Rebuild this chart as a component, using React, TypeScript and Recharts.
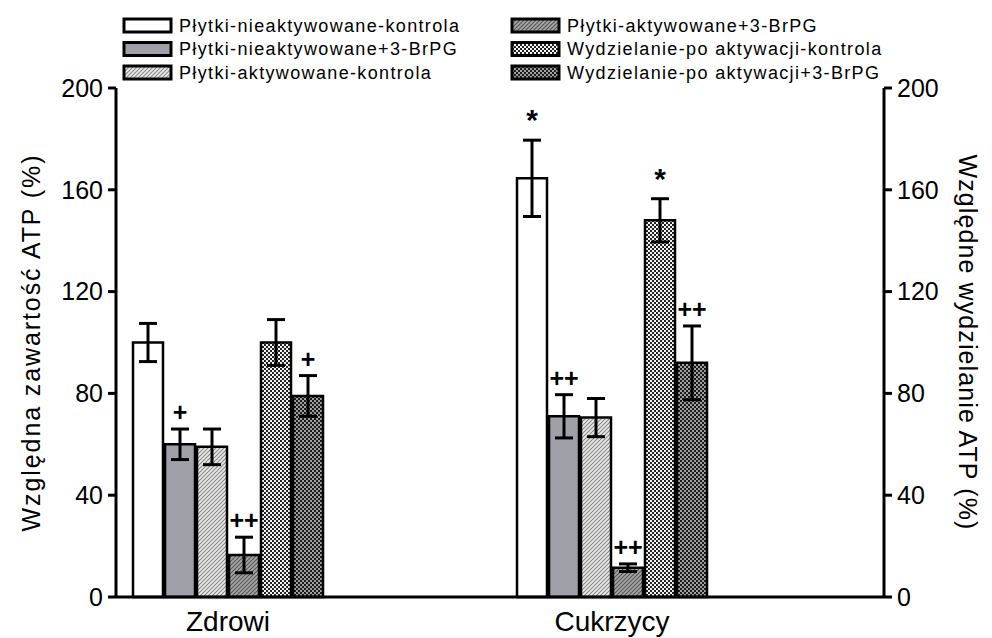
import React from 'react';
import { BarChart, Bar, XAxis, YAxis, ErrorBar, LabelList, Legend } from 'recharts';

const categories = ['Zdrowi', 'Cukrzycy'];
const seriesNames = [
  'Płytki-nieaktywowane-kontrola',
  'Płytki-nieaktywowane+3-BrPG',
  'Płytki-aktywowane-kontrola',
  'Płytki-aktywowane+3-BrPG',
  'Wydzielanie-po aktywacji-kontrola',
  'Wydzielanie-po aktywacji+3-BrPG',
];
const s1Values = [100, 164.5];
const s2Values = [60, 71];
const s3Values = [59, 70.5];
const s4Values = [16.5, 11.5];
const s5Values = [100, 148];
const s6Values = [79, 92];
const s1Errors = [7.5, 15];
const s2Errors = [6, 8.5];
const s3Errors = [7, 7.5];
const s4Errors = [7, 1.5];
const s5Errors = [9, 8.5];
const s6Errors = [8, 14.5];
const s1Marks = ['', '*'];
const s2Marks = ['+', '++'];
const s3Marks = ['', ''];
const s4Marks = ['++', '++'];
const s5Marks = ['', '*'];
const s6Marks = ['+', '++'];
const yTicks = [0, 40, 80, 120, 160, 200];
const leftTitle = 'Względna zawartość ATP (%)';
const rightTitle = 'Względne wydzielanie ATP (%)';

const allValues = [s1Values, s2Values, s3Values, s4Values, s5Values, s6Values];
const allErrors = [s1Errors, s2Errors, s3Errors, s4Errors, s5Errors, s6Errors];
const allMarks = [s1Marks, s2Marks, s3Marks, s4Marks, s5Marks, s6Marks];
// content series (1-4) use the left axis, release series (5-6) the right axis
const axisIds = ['left', 'left', 'left', 'left', 'right', 'right'];

const data = categories.map((name, i) => {
  const row: any = { name };
  allValues.forEach((vals, k) => {
    row[`v${k + 1}`] = vals[i];
    row[`e${k + 1}`] = allErrors[k][i];
    row[`m${k + 1}`] = allMarks[k][i];
  });
  return row;
});

const fills = ['#ffffff', '#a0a0a8', 'url(#pat3)', 'url(#pat4)', 'url(#pat5)', 'url(#pat6)'];

const FONT = '"Liberation Sans", Arial, Helvetica, sans-serif';

function Patterns() {
  return (
    <defs>
      <pattern id="pat3" width="4" height="4" patternUnits="userSpaceOnUse">
        <rect width="4" height="4" fill="#ececec" />
        <path d="M-1,1 l2,-2 M0,4 l4,-4 M3,5 l2,-2" stroke="#8a8a8a" strokeWidth="1.2" />
      </pattern>
      <pattern id="pat4" width="4" height="4" patternUnits="userSpaceOnUse">
        <rect width="4" height="4" fill="#a8a8a8" />
        <path d="M-1,1 l2,-2 M0,4 l4,-4 M3,5 l2,-2" stroke="#555555" strokeWidth="1.2" />
      </pattern>
      <pattern id="pat5" width="4" height="4" patternUnits="userSpaceOnUse">
        <rect width="4" height="4" fill="#f4f4f4" />
        <rect x="0" y="0" width="2" height="2" fill="#222" />
        <rect x="2" y="2" width="2" height="2" fill="#222" />
      </pattern>
      <pattern id="pat6" width="4" height="4" patternUnits="userSpaceOnUse">
        <rect width="4" height="4" fill="#a0a0a0" />
        <rect x="0" y="0" width="2" height="2" fill="#1a1a1a" />
        <rect x="2" y="2" width="2" height="2" fill="#1a1a1a" />
      </pattern>
    </defs>
  );
}

function makeMarkLabel(k: number) {
  return (props: any) => {
    const vb = props.viewBox || props;
    const x = props.x ?? vb.x;
    const y = props.y ?? vb.y;
    const width = props.width ?? vb.width;
    const height = props.height ?? vb.height;
    const { value, index } = props;
    if (!value) return null;
    const v = allValues[k][index];
    const e = allErrors[k][index];
    const px = v ? height / v : 0;
    const top = y - e * px;
    const isStar = value === '*';
    return (
      <text
        x={x + width / 2}
        y={isStar ? top - 10 : top - 8}
        textAnchor="middle"
        fontSize={isStar ? 30 : 25}
        fontWeight="bold"
        fontFamily={FONT}
        fill="#000"
      >
        {value}
      </text>
    );
  };
}

const legendRows = [25.5, 49, 72.5];
const legendCols = [{ sx: 124, tx: 179 }, { sx: 512, tx: 567 }];

function LegendContent() {
  return (
    <svg width={992} height={88} style={{ display: 'block' }}>
      <Patterns />
      {seriesNames.map((n, i) => {
        const col = legendCols[Math.floor(i / 3)];
        const cy = legendRows[i % 3];
        return (
          <g key={n}>
            <rect x={col.sx} y={cy - 6.5} width={47} height={13} fill={fills[i]} stroke="#000" strokeWidth={3} />
            <text x={col.tx} y={cy} dy="0.35em" fontSize={18} letterSpacing={1.35} fontFamily={FONT} fill="#000">
              {n}
            </text>
          </g>
        );
      })}
    </svg>
  );
}

const axisCommon = {
  domain: [0, 200] as [number, number],
  ticks: yTicks,
  interval: 0 as const,
  tickSize: 8,
  tickMargin: 5,
  axisLine: { stroke: '#000', strokeWidth: 3 },
  tickLine: { stroke: '#000', strokeWidth: 3 },
  tick: { fontSize: 25, fill: '#000', fontFamily: FONT },
};

export default function App() {
  return (
    <div style={{ position: 'absolute', left: 0, top: 0 }}>
      <BarChart
        width={992}
        height={638}
        data={data}
        margin={{ top: 88, right: 0, bottom: 0, left: 0 }}
        barSize={30}
        barGap={2}
      >
        <Patterns />
        <XAxis
          dataKey="name"
          padding={{ left: -80, right: 80 }}
          tickLine={false}
          axisLine={{ stroke: '#000', strokeWidth: 3 }}
          tick={{ fontSize: 28, fill: '#000', fontFamily: FONT }}
          tickMargin={8}
          height={41}
        />
        <YAxis
          yAxisId="left"
          width={116}
          {...axisCommon}
          label={{ value: leftTitle, angle: -90, position: 'center', dx: -27, style: { fontSize: 25, letterSpacing: 1.9, fill: '#000', fontFamily: FONT } }}
        />
        <YAxis
          yAxisId="right"
          orientation="right"
          width={108}
          {...axisCommon}
          label={{ value: rightTitle, angle: 90, position: 'center', dx: 30, style: { fontSize: 25, letterSpacing: 1.1, fill: '#000', fontFamily: FONT } }}
        />
        <Legend
          layout="horizontal"
          verticalAlign="middle"
          align="center"
          wrapperStyle={{ position: 'absolute', top: 0, left: 0, width: 992, height: 88 }}
          content={() => <LegendContent />}
        />
        {seriesNames.map((n, k) => (
          <Bar
            key={n}
            yAxisId={axisIds[k]}
            dataKey={`v${k + 1}`}
            name={n}
            fill={fills[k]}
            stroke="#000"
            strokeWidth={2.5}
            isAnimationActive={false}
          >
            <ErrorBar dataKey={`e${k + 1}`} width={9} stroke="#000" strokeWidth={3} />
            <LabelList dataKey={`m${k + 1}`} content={makeMarkLabel(k)} />
          </Bar>
        ))}
      </BarChart>
    </div>
  );
}
